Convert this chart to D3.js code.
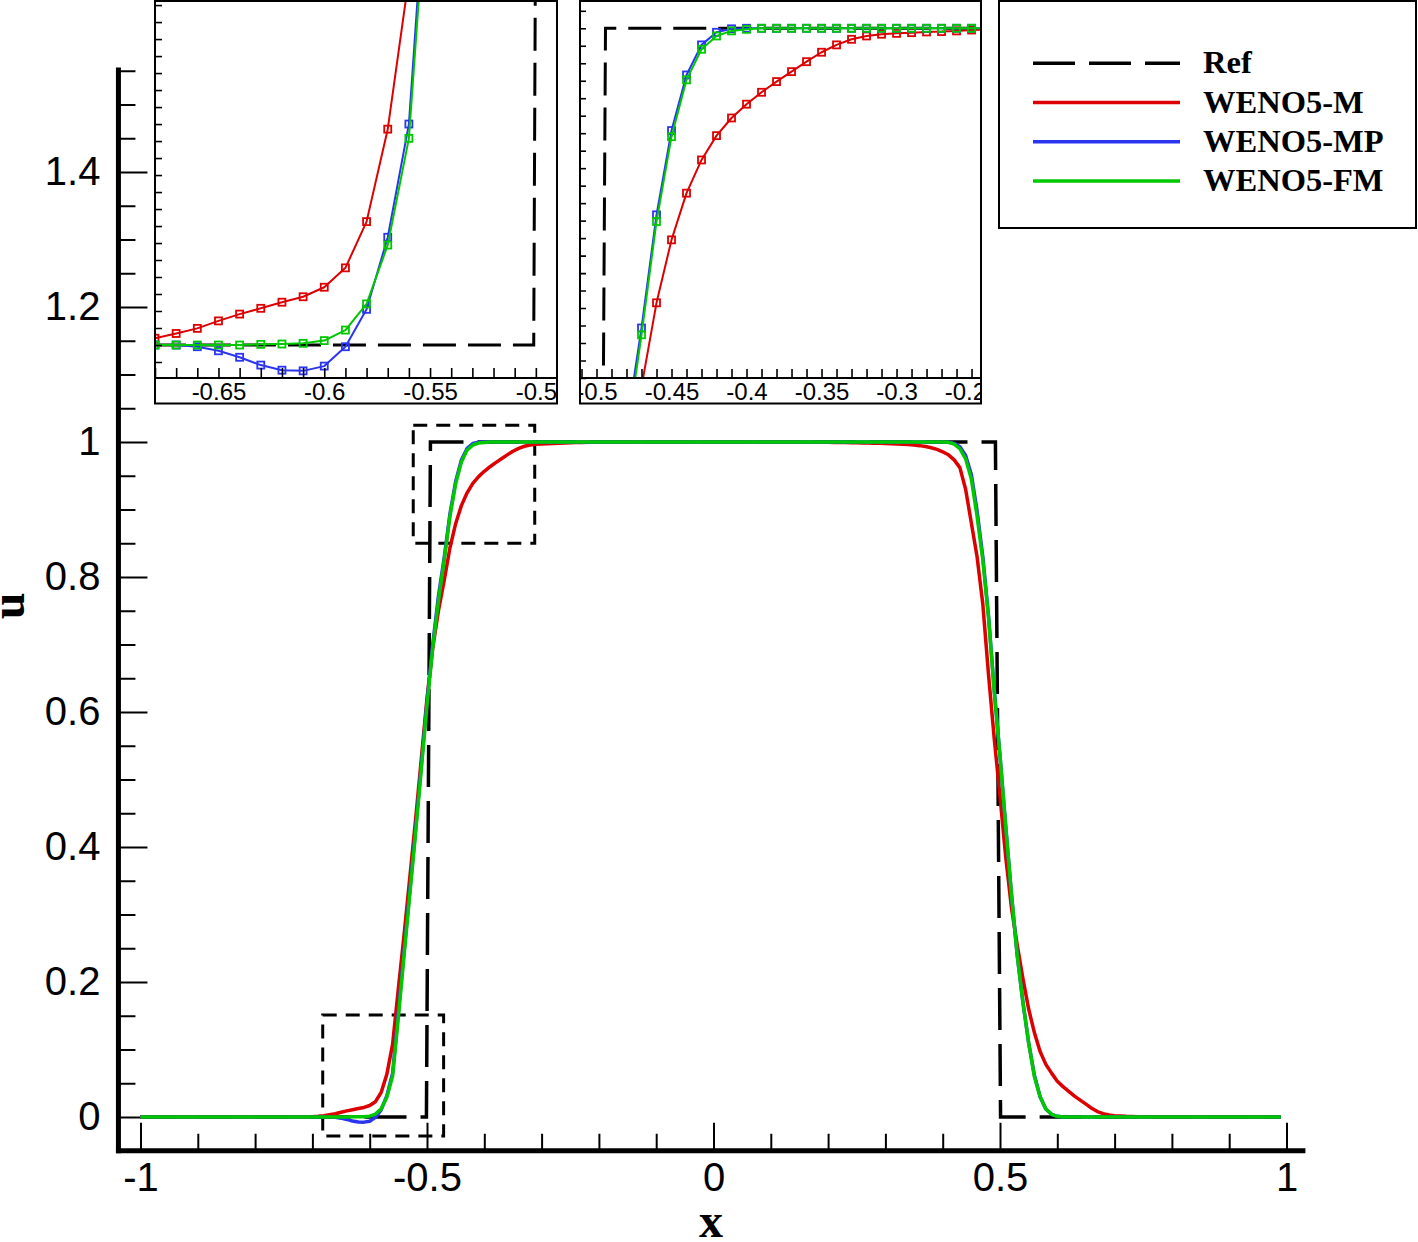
<!DOCTYPE html>
<html><head><meta charset="utf-8">
<script src="https://cdn.jsdelivr.net/npm/d3@7"></script>
<style>
html,body{margin:0;padding:0;background:#fff;}
svg{display:block;}
</style></head><body>
<svg id="chart" width="1418" height="1242"></svg>
<script>
// ---------------- data ----------------
const xGrid = [
 -1,-0.99,-0.98,-0.97,-0.96,-0.95,-0.94,-0.93,-0.92,-0.91,
 -0.9,-0.89,-0.88,-0.87,-0.86,-0.85,-0.84,-0.83,-0.82,-0.81,
 -0.8,-0.79,-0.78,-0.77,-0.76,-0.75,-0.74,-0.73,-0.72,-0.71,
 -0.7,-0.69,-0.68,-0.67,-0.66,-0.65,-0.64,-0.63,-0.62,-0.61,
 -0.6,-0.59,-0.58,-0.57,-0.56,-0.55,-0.54,-0.53,-0.52,-0.51,
 -0.5,-0.49,-0.48,-0.47,-0.46,-0.45,-0.44,-0.43,-0.42,-0.41,
 -0.4,-0.39,-0.38,-0.37,-0.36,-0.35,-0.34,-0.33,-0.32,-0.31,
 -0.3,-0.29,-0.28,-0.27,-0.26,-0.25,-0.24,-0.23,-0.22,-0.21,
 -0.2,-0.19,-0.18,-0.17,-0.16,-0.15,-0.14,-0.13,-0.12,-0.11,
 -0.1,-0.09,-0.08,-0.07,-0.06,-0.05,-0.04,-0.03,-0.02,-0.01,
 0,0.01,0.02,0.03,0.04,0.05,0.06,0.07,0.08,0.09,
 0.1,0.11,0.12,0.13,0.14,0.15,0.16,0.17,0.18,0.19,
 0.2,0.21,0.22,0.23,0.24,0.25,0.26,0.27,0.28,0.29,
 0.3,0.31,0.32,0.33,0.34,0.35,0.36,0.37,0.38,0.39,
 0.4,0.41,0.42,0.43,0.44,0.45,0.46,0.47,0.48,0.49,
 0.5,0.51,0.52,0.53,0.54,0.55,0.56,0.57,0.58,0.59,
 0.6,0.61,0.62,0.63,0.64,0.65,0.66,0.67,0.68,0.69,
 0.7,0.71,0.72,0.73,0.74,0.75,0.76,0.77,0.78,0.79,
 0.8,0.81,0.82,0.83,0.84,0.85,0.86,0.87,0.88,0.89,
 0.9,0.91,0.92,0.93,0.94,0.95,0.96,0.97,0.98,0.99
];
const weno5M = [
 0,0,0,0,0,0,0,0,0,0,
 0,0,0,0,0,0,0,0,0,0,
 0,0,0,0,0,0,0,0,0,0,
 0.0005,0.001,0.002,0.0034,0.0049,0.0071,0.0091,0.0108,0.0126,0.0142,
 0.017,0.0227,0.0363,0.0635,0.108,0.19,0.27,0.355,0.44,0.53,
 0.62,0.695,0.75,0.795,0.843,0.879,0.9057,0.9247,0.9386,0.9487,
 0.9566,0.9634,0.9695,0.9752,0.9809,0.9863,0.9905,0.9937,0.9956,0.9966,
 0.9971,0.9975,0.9979,0.9981,0.9985,0.999,0.9992,0.9994,0.9995,0.9996,
 0.9997,0.9998,0.9998,0.9999,0.9999,1,1,1,1,1,
 1,1,1,1,1,1,1,1,1,1,
 1,1,1,1,1,1,1,1,1,1,
 1,1,1,1,1,0.9999,0.9998,0.9998,0.9997,0.9996,
 0.9995,0.9994,0.9993,0.9992,0.999,0.9989,0.9987,0.9985,0.9983,0.998,
 0.9978,0.9975,0.9971,0.9967,0.9962,0.9955,0.9946,0.9933,0.9915,0.989,
 0.9855,0.981,0.9735,0.962,0.93,0.88,0.83,0.76,0.655,0.56,
 0.475,0.385,0.31,0.255,0.205,0.16,0.125,0.097,0.078,0.065,
 0.053,0.045,0.038,0.031,0.025,0.019,0.013,0.008,0.005,0.003,
 0.002,0.0015,0.001,0.0007,0.0005,0.0003,0.0002,0.0001,0,0,
 0,0,0,0,0,0,0,0,0,0,
 0,0,0,0,0,0,0,0,0,0
];
const weno5MP = [
 0,0,0,0,0,0,0,0,0,0,
 0,0,0,0,0,0,0,0,0,0,
 0,0,0,0,0,0,0,0,0,0,
 0,0,0,0,-0.0005,-0.0017,-0.0036,-0.0059,-0.0074,-0.0076,
 -0.0062,-0.0005,0.0105,0.0317,0.065,0.155,0.245,0.335,0.425,0.52,
 0.615,0.7,0.772,0.8286,0.8933,0.9415,0.9733,0.9905,0.9977,0.9997,
 1,1,1,1,1,1,1,1,1,1,
 1,1,1,1,1,1,1,1,1,1,
 1,1,1,1,1,1,1,1,1,1,
 1,1,1,1,1,1,1,1,1,1,
 1,1,1,1,1,1,1,1,1,1,
 1,1,1,1,1,1,1,1,1,1,
 1,1,1,1,1,1,1,1,1,1,
 1,1,1,1,1,1,1,1,1,1,
 1,0.9997,0.998,0.993,0.98,0.952,0.898,0.83,0.742,0.632,
 0.535,0.43,0.33,0.24,0.17,0.11,0.062,0.03,0.012,0.004,
 0.001,0,0,0,0,0,0,0,0,0,
 0,0,0,0,0,0,0,0,0,0,
 0,0,0,0,0,0,0,0,0,0,
 0,0,0,0,0,0,0,0,0,0
];
const weno5FM = [
 0,0,0,0,0,0,0,0,0,0,
 0,0,0,0,0,0,0,0,0,0,
 0,0,0,0,0,0,0,0,0,0,
 0,0,0,0,0,0,0,0.0002,0.0003,0.0005,
 0.0013,0.0044,0.0121,0.0294,0.0608,0.148,0.24,0.33,0.42,0.515,
 0.61,0.695,0.765,0.8247,0.8895,0.938,0.9705,0.988,0.9956,0.9985,
 0.9994,1,1,1,1,1,1,1,1,1,
 1,1,1,1,1,1,1,1,1,1,
 1,1,1,1,1,1,1,1,1,1,
 1,1,1,1,1,1,1,1,1,1,
 1,1,1,1,1,1,1,1,1,1,
 1,1,1,1,1,1,1,1,1,1,
 1,1,1,1,1,1,1,1,1,1,
 1,1,1,1,1,1,1,1,1,1,
 1,0.9995,0.997,0.99,0.975,0.945,0.89,0.825,0.74,0.63,
 0.535,0.43,0.33,0.24,0.17,0.11,0.06,0.03,0.012,0.004,
 0.001,0,0,0,0,0,0,0,0,0,
 0,0,0,0,0,0,0,0,0,0,
 0,0,0,0,0,0,0,0,0,0,
 0,0,0,0,0,0,0,0,0,0
];
const refX = [-1, -0.501, -0.494, 0.492, 0.501, 0.99];
const refU = [0, 0, 1, 1, 0, 0];

const seriesNames = ["Ref", "WENO5-M", "WENO5-MP", "WENO5-FM"];
const seriesColors = ["#000000", "#dc0000", "#2b35f0", "#00c800"];

const mainXTickLabels = [-1, -0.5, 0, 0.5, 1];
const mainYTickLabels = [0, 0.2, 0.4, 0.6, 0.8, 1, 1.2, 1.4];
const inset1XTickLabels = [-0.65, -0.6, -0.55, -0.5];
const inset2XTickLabels = [-0.5, -0.45, -0.4, -0.35, -0.3, -0.25];

const zoomBoxX0 = [-0.682, -0.524];
const zoomBoxX1 = [-0.471, -0.312];
const zoomBoxU0 = [-0.028, 0.850];
const zoomBoxU1 = [0.151, 1.025];

// ---------------- drawing ----------------
const svg = d3.select("#chart");
const defs = svg.append("defs");
const TICK_FONT = "'Liberation Sans', Arial, Helvetica, sans-serif";
const SERIF = "'Liberation Serif', 'Times New Roman', Times, serif";

const xMain = d3.scaleLinear().domain([-1, 1]).range([140.5, 1286.5]);
const yMain = d3.scaleLinear().domain([0, 1]).range([1117, 442]);
const xSpan = [-1.0385, 1.033];
const ySpan = [-0.05, 1.555];

const refPts = refX.map((x, i) => [x, refU[i]]);
const solSeries = [weno5M, weno5MP, weno5FM].map((vals, k) => ({
  name: seriesNames[k + 1],
  color: seriesColors[k + 1],
  pts: xGrid.map((x, i) => [x, vals[i]])
}));
const mkLine = (xs, ys) => d3.line().x(d => xs(d[0])).y(d => ys(d[1]));

// main axes
const minorX = d3.range(-10, 11).map(i => i / 10).filter(v => !mainXTickLabels.includes(v));
const minorY = d3.range(0, 32).map(i => Math.round(i * 5) / 100).filter(v => !mainYTickLabels.includes(v));

const axY0 = yMain(ySpan[0]);
const axX0 = xMain(xSpan[0]);

const gxMinor = svg.append("g").attr("transform", `translate(0,${axY0})`)
  .call(d3.axisBottom(xMain).tickValues(minorX).tickSize(-17).tickFormat(""));
const gxMajor = svg.append("g").attr("transform", `translate(0,${axY0})`)
  .call(d3.axisBottom(xMain).tickValues(mainXTickLabels).tickSize(-28).tickPadding(12).tickFormat(d => String(d)));
const gyMinor = svg.append("g").attr("transform", `translate(${axX0},0)`)
  .call(d3.axisLeft(yMain).tickValues(minorY).tickSize(-17).tickFormat(""));
const gyMajor = svg.append("g").attr("transform", `translate(${axX0},0)`)
  .call(d3.axisLeft(yMain).tickValues(mainYTickLabels).tickSize(-29).tickPadding(18).tickFormat(d => String(d)));
[gxMinor, gxMajor, gyMinor, gyMajor].forEach(g => {
  g.select(".domain").remove();
  g.selectAll(".tick line").attr("stroke", "#000").attr("stroke-width", 2);
  g.selectAll(".tick text").attr("fill", "#000").style("font-family", TICK_FONT).style("font-size", "40px");
});
// axis lines
svg.append("line").attr("x1", xMain(xSpan[0]) - 2.5).attr("x2", xMain(xSpan[1]))
  .attr("y1", axY0).attr("y2", axY0).attr("stroke", "#000").attr("stroke-width", 5);
svg.append("line").attr("x1", axX0).attr("x2", axX0)
  .attr("y1", yMain(ySpan[0]) + 2.5).attr("y2", yMain(ySpan[1]))
  .attr("stroke", "#000").attr("stroke-width", 5);

// axis titles
svg.append("text").attr("x", 711).attr("y", 1237).attr("text-anchor", "middle")
  .style("font-family", SERIF).style("font-weight", "bold").style("font-size", "48px").text("x");
svg.append("text").attr("transform", "translate(24,606) rotate(-90)").attr("text-anchor", "middle")
  .style("font-family", SERIF).style("font-weight", "bold").style("font-size", "48px").text("u");

// zoom boxes
zoomBoxX0.forEach((x0, i) => {
  svg.append("rect")
    .attr("x", xMain(x0)).attr("y", yMain(zoomBoxU1[i]))
    .attr("width", xMain(zoomBoxX1[i]) - xMain(x0))
    .attr("height", yMain(zoomBoxU0[i]) - yMain(zoomBoxU1[i]))
    .attr("fill", "none").attr("stroke", "#000").attr("stroke-width", 3)
    .attr("stroke-dasharray", "14,9");
});

// main curves
const mainLine = mkLine(xMain, yMain);
svg.append("path").datum(refPts).attr("d", mainLine).attr("fill", "none")
  .attr("stroke", "#000").attr("stroke-width", 3.5).attr("stroke-dasharray", "42,14");
solSeries.forEach(s => {
  svg.append("path").datum(s.pts).attr("d", mainLine).attr("fill", "none")
    .attr("stroke", s.color).attr("stroke-width", 3.5).attr("stroke-linejoin", "round");
});

// insets
const insets = [
  { left: 155, right: 557, xDom: [-0.68, -0.49], yDom: [-0.0097, 0.1012],
    xTicks: d3.range(-68, -48).map(i => i / 100), xLabels: inset1XTickLabels,
    yTicks: d3.range(-1, 21).map(i => Math.round(i * 5) / 1000), tickB: 10, tickL: 7 },
  { left: 580, right: 981, xDom: [-0.511, -0.2437], yDom: [0.8, 1.0156],
    xTicks: d3.range(-51, -24).map(i => i / 100), xLabels: inset2XTickLabels,
    yTicks: d3.range(80, 102).map(i => i / 100), tickB: 9, tickL: 6 }
];
const IN_TOP = 1, IN_AX = 378, IN_BOT = 403.5;

insets.forEach((c, k) => {
  const xs = d3.scaleLinear().domain(c.xDom).range([c.left, c.right]);
  const ys = d3.scaleLinear().domain(c.yDom).range([IN_AX, IN_TOP]);
  const g = svg.append("g");
  g.append("rect").attr("x", c.left).attr("y", IN_TOP).attr("width", c.right - c.left)
    .attr("height", IN_BOT - IN_TOP).attr("fill", "#fff");

  defs.append("clipPath").attr("id", "pclip" + k).append("rect")
    .attr("x", c.left).attr("y", IN_TOP).attr("width", c.right - c.left).attr("height", IN_AX - IN_TOP);
  defs.append("clipPath").attr("id", "fclip" + k).append("rect")
    .attr("x", c.left).attr("y", 0).attr("width", c.right - c.left).attr("height", IN_BOT);

  const pg = g.append("g").attr("clip-path", `url(#pclip${k})`);
  const ln = mkLine(xs, ys);
  pg.append("path").datum(refPts).attr("d", ln).attr("fill", "none")
    .attr("stroke", "#000").attr("stroke-width", 3).attr("stroke-dasharray", "33,12");
  solSeries.forEach(s => {
    pg.append("path").datum(s.pts).attr("d", ln).attr("fill", "none")
      .attr("stroke", s.color).attr("stroke-width", 2).attr("stroke-linejoin", "round");
    const vis = s.pts.filter(d => d[0] >= c.xDom[0] - 0.01 && d[0] <= c.xDom[1] + 0.01 &&
                                  d[1] >= c.yDom[0] - 0.01 && d[1] <= c.yDom[1] + 0.01);
    pg.selectAll(null).data(vis).join("rect")
      .attr("x", d => xs(d[0]) - 3.5).attr("y", d => ys(d[1]) - 3.5)
      .attr("width", 7).attr("height", 7)
      .attr("fill", "none").attr("stroke", s.color).attr("stroke-width", 1.8);
  });

  // axes (clipped to frame)
  const ag = g.append("g").attr("clip-path", `url(#fclip${k})`);
  const bt = ag.append("g").attr("transform", `translate(0,${IN_AX})`)
    .call(d3.axisBottom(xs).tickValues(c.xTicks).tickSize(-c.tickB).tickFormat(""));
  const bl = ag.append("g").attr("transform", `translate(0,${IN_AX})`)
    .call(d3.axisBottom(xs).tickValues(c.xLabels).tickSize(0).tickPadding(5).tickFormat(d => String(d)));
  const lt = ag.append("g").attr("transform", `translate(${c.left},0)`)
    .call(d3.axisLeft(ys).tickValues(c.yTicks).tickSize(-c.tickL).tickFormat(""));
  [bt, bl, lt].forEach(a => {
    a.select(".domain").remove();
    a.selectAll(".tick line").attr("stroke", "#000").attr("stroke-width", 1.6);
    a.selectAll(".tick text").attr("fill", "#000").style("font-family", TICK_FONT).style("font-size", "24px");
  });
  bl.selectAll(".tick line").remove();
  g.append("line").attr("x1", c.left).attr("x2", c.right).attr("y1", IN_AX).attr("y2", IN_AX)
    .attr("stroke", "#000").attr("stroke-width", 2);
  g.append("rect").attr("x", c.left).attr("y", IN_TOP).attr("width", c.right - c.left)
    .attr("height", IN_BOT - IN_TOP).attr("fill", "none").attr("stroke", "#000").attr("stroke-width", 2);
});

// legend
const lg = svg.append("g");
lg.append("rect").attr("x", 999).attr("y", 1).attr("width", 417).attr("height", 227)
  .attr("fill", "#fff").attr("stroke", "#000").attr("stroke-width", 2);
seriesNames.forEach((n, i) => {
  const ly = 63.3 + i * 39.2;
  lg.append("line").attr("x1", 1033).attr("x2", 1180).attr("y1", ly).attr("y2", ly)
    .attr("stroke", seriesColors[i]).attr("stroke-width", 3.5)
    .attr("stroke-dasharray", i === 0 ? "42,14" : null);
  lg.append("text").attr("x", 1203).attr("y", ly + 10)
    .style("font-family", SERIF).style("font-weight", "bold").style("font-size", "32.5px")
    .attr("fill", "#000").text(n);
});
</script>
</body></html>
